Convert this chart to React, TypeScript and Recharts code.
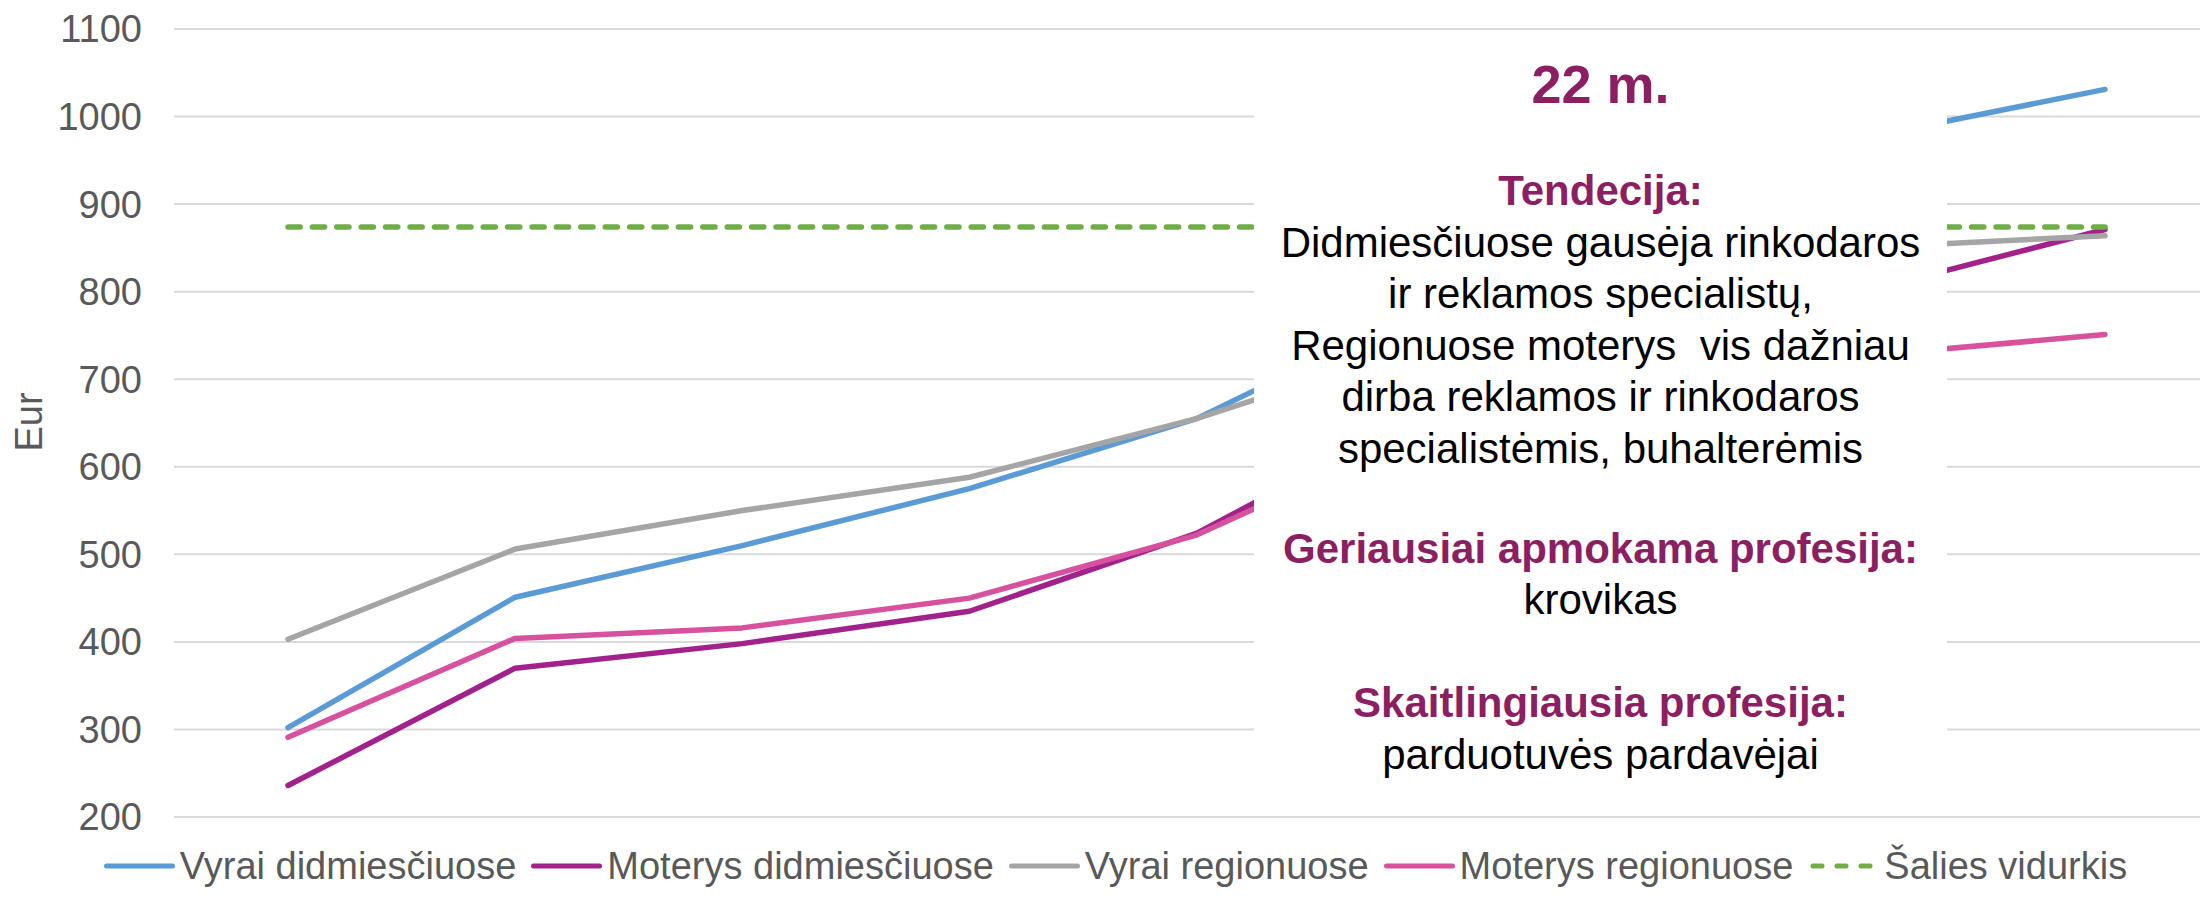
import { LineChart, Line, XAxis, YAxis, CartesianGrid } from 'recharts'

const ages = ['18 m.', '19 m.', '20 m.', '21 m.', '22 m.', '23 m.', '24 m.', '25 m.', '26 m.']
const vyraiDidmiesciuose = [302, 451, 510, 575, 655, 781, 880, 979, 1031]
const moterysDidmiesciuose = [236, 370, 398, 435, 524, 661, 735, 804, 871]
const vyraiRegionuose = [403, 506, 550, 588, 655, 739, 800, 851, 864]
const moterysRegionuose = [291, 404, 416, 450, 522, 640, 690, 728, 751]
const saliesVidurkis = [874, 874, 874, 874, 874, 874, 874, 874, 874]
const yTicks = [200, 300, 400, 500, 600, 700, 800, 900, 1000, 1100]

const series = [
  { key: 'vd', name: 'Vyrai didmiesčiuose', color: '#5B9BD5', dashed: false },
  { key: 'md', name: 'Moterys didmiesčiuose', color: '#A0228A', dashed: false },
  { key: 'vr', name: 'Vyrai regionuose', color: '#A5A5A5', dashed: false },
  { key: 'mr', name: 'Moterys regionuose', color: '#D6519E', dashed: false },
  { key: 'avg', name: 'Šalies vidurkis', color: '#70AD47', dashed: true },
]

const data = ages.map((age, i) => ({
  age,
  vd: vyraiDidmiesciuose[i],
  md: moterysDidmiesciuose[i],
  vr: vyraiRegionuose[i],
  mr: moterysRegionuose[i],
  avg: saliesVidurkis[i],
}))

const FONT = '"Liberation Sans", Arial, sans-serif'
const PLUM = '#8B1F62'

function TextLine({ y, children, bold, size = 42, color = '#000' }: { y: number; children: string; bold?: boolean; size?: number; color?: string }) {
  return (
    <div
      style={{
        position: 'absolute',
        left: 0,
        width: '100%',
        top: y - 30,
        height: 60,
        lineHeight: '60px',
        textAlign: 'center',
        fontSize: size,
        fontWeight: bold ? 700 : 400,
        color,
        whiteSpace: 'pre',
      }}
    >
      {children}
    </div>
  )
}

function LegendRow() {
  return (
    <div
      style={{
        position: 'absolute',
        left: 0,
        top: 842,
        width: 2246,
        height: 48,
        display: 'flex',
        justifyContent: 'center',
        alignItems: 'center',
        fontFamily: FONT,
        fontSize: 38,
        color: '#595959',
        whiteSpace: 'nowrap',
      }}
    >
      {series.map((s) => (
        <div key={s.key} style={{ display: 'flex', alignItems: 'center', marginRight: 15 }}>
          <svg width={71} height={10} style={{ marginRight: 5 }}>
            <line
              x1={s.dashed ? 5 : 2.5}
              x2={s.dashed ? 66 : 68.5}
              y1={5}
              y2={5}
              stroke={s.color}
              strokeWidth={5}
              strokeLinecap="round"
              strokeDasharray={s.dashed ? '9 15' : undefined}
            />
          </svg>
          <span>{s.name}</span>
        </div>
      ))}
    </div>
  )
}

export default function App() {
  return (
    <div style={{ position: 'absolute', left: 0, top: 0, width: 2200, height: 898, background: '#fff', fontFamily: FONT, overflow: 'hidden' }}>
      <LineChart width={2200} height={898} data={data} margin={{ top: 29, right: 0, bottom: 81, left: 0 }}>
        <CartesianGrid vertical={false} stroke="#D9D9D9" strokeWidth={2} />
        <XAxis dataKey="age" hide padding={{ left: 114, right: 95 }} />
        <YAxis
          width={174}
          domain={[200, 1100]}
          ticks={yTicks}
          interval={0}
          axisLine={false}
          tickLine={false}
          tickSize={0}
          tickMargin={32}
          tick={{ fill: '#595959', fontSize: 38, fontFamily: FONT }}
          label={{
            value: 'Eur',
            content: () => (
              <text x={29} y={422} transform="rotate(-90 29 422)" textAnchor="middle" dominantBaseline="central" fill="#595959" fontSize={38} fontFamily={FONT}>
                Eur
              </text>
            ),
          }}
        />
        {series.map((s) => (
          <Line
            key={s.key}
            type="linear"
            dataKey={s.key}
            name={s.name}
            stroke={s.color}
            strokeWidth={5.5}
            strokeDasharray={s.dashed ? '12.2 12.2' : undefined}
            strokeLinecap="round"
            strokeLinejoin="round"
            dot={false}
            activeDot={false}
            isAnimationActive={false}
          />
        ))}
      </LineChart>

      <div style={{ position: 'absolute', left: 1254, top: 36, width: 693, height: 774, background: '#fff' }}>
        <div style={{ position: 'absolute', left: 0, top: -36, width: '100%', height: 898 }}>
          <TextLine y={84} bold size={54} color={PLUM}>22 m.</TextLine>
          <TextLine y={191} bold color={PLUM}>Tendecija:</TextLine>
          <TextLine y={243}>Didmiesčiuose gausėja rinkodaros</TextLine>
          <TextLine y={294}>ir reklamos specialistų,</TextLine>
          <TextLine y={346}>Regionuose moterys  vis dažniau</TextLine>
          <TextLine y={397}>dirba reklamos ir rinkodaros</TextLine>
          <TextLine y={449}>specialistėmis, buhalterėmis</TextLine>
          <TextLine y={549} bold color={PLUM}>Geriausiai apmokama profesija:</TextLine>
          <TextLine y={600}>krovikas</TextLine>
          <TextLine y={703} bold color={PLUM}>Skaitlingiausia profesija:</TextLine>
          <TextLine y={755}>parduotuvės pardavėjai</TextLine>
        </div>
      </div>

      <LegendRow />
    </div>
  )
}
